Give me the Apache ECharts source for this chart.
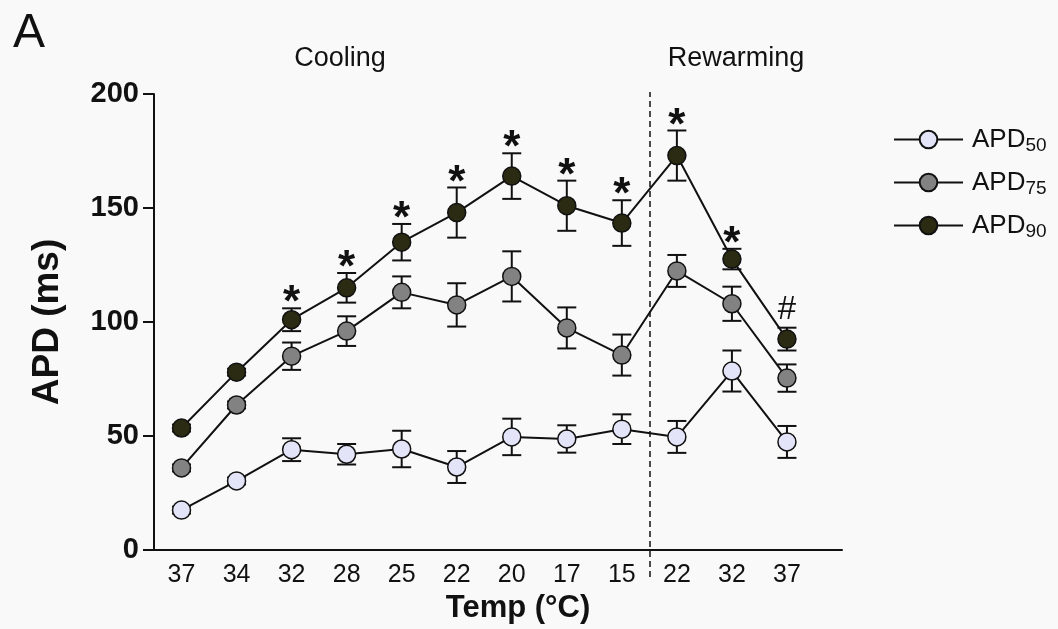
<!DOCTYPE html>
<html>
<head>
<meta charset="utf-8">
<script src="https://cdn.jsdelivr.net/npm/echarts@6/dist/echarts.min.js"></script>
<style>
  html, body { margin: 0; padding: 0; background: #f9f9f9; }
  #chart { width: 1058px; height: 629px; }
</style>
</head>
<body>
<div id="chart"></div>
<script>
// Temperature steps: cooling from 37 °C down to 15 °C, then rewarming
const tempLabels = ['37', '34', '32', '28', '25', '22', '20', '17', '15', '22', '32', '37'];

// Action potential duration (ms), mean and SEM
const apd50 = [17.5, 30.3, 44, 42, 44.3, 36.4, 49.6, 48.7, 53, 49.6, 78.5, 47.4];
const err50 = [1.5, 1.5, 5, 4.5, 8, 7, 8, 6, 6.5, 7, 9, 7];
const apd75 = [36, 63.6, 85, 96, 113, 107.5, 120, 97.4, 85.5, 122.4, 108, 75.4];
const err75 = [1.5, 1.5, 6, 6.5, 7, 9.5, 11, 9, 9, 7, 7.5, 6];
const apd90 = [53.5, 78, 101, 115, 135, 148, 164, 151, 143.4, 173, 127.6, 92.5];
const err90 = [1.5, 1.5, 5, 6.5, 8, 11, 10, 11, 10, 11, 4.5, 5];

// Significance marks drawn above APD90
const sig90 = ['', '', '*', '*', '*', '*', '*', '*', '*', '*', '*', '#'];

// Cooling/rewarming boundary sits between the 9th and 10th step
const phaseBoundary = 8.5;

const yTicks = { min: 0, max: 200, interval: 50 };

const FONT = 'Liberation Sans, Arial, sans-serif';
const INK = '#111';
const idx = tempLabels.map((_, i) => i);

function pts(vals) { return vals.map((v, i) => [i, v]); }
function bars(vals, errs) { return vals.map((v, i) => [i, v - errs[i], v + errs[i]]); }

function renderErr(params, api) {
  const x = api.value(0);
  const lo = api.coord([x, api.value(1)]);
  const hi = api.coord([x, api.value(2)]);
  const cap = 9.5;
  const style = { stroke: INK, lineWidth: 2, fill: null };
  return {
    type: 'group',
    children: [
      { type: 'line', shape: { x1: lo[0], y1: lo[1], x2: hi[0], y2: hi[1] }, style },
      { type: 'line', shape: { x1: lo[0] - cap, y1: lo[1], x2: lo[0] + cap, y2: lo[1] }, style },
      { type: 'line', shape: { x1: hi[0] - cap, y1: hi[1], x2: hi[0] + cap, y2: hi[1] }, style }
    ]
  };
}

function renderSig(params, api) {
  const i = api.value(0);
  const mark = sig90[i];
  if (!mark) return null;
  const top = api.coord([i, api.value(1)]);
  const star = mark === '*';
  return {
    type: 'text',
    style: {
      text: mark,
      x: top[0],
      y: top[1] - (star ? 4 : 18),
      align: 'center',
      verticalAlign: 'middle',
      fill: INK,
      font: (star ? 'bold 44px ' : '33px ') + FONT
    }
  };
}

function lineSeries(name, vals, fill) {
  return {
    name,
    type: 'line',
    data: pts(vals),
    symbol: 'circle',
    symbolSize: 18,
    z: 3,
    lineStyle: { color: INK, width: 2 },
    itemStyle: { color: fill, borderColor: INK, borderWidth: 1.5 }
  };
}

function errSeries(vals, errs) {
  return {
    type: 'custom',
    renderItem: renderErr,
    data: bars(vals, errs),
    z: 2,
    silent: true
  };
}

const chart = echarts.init(document.getElementById('chart'), null, { renderer: 'canvas' });

chart.setOption({
  backgroundColor: '#f9f9f9',
  animation: false,
  title: [
    { text: 'A', left: 8, top: 5, textStyle: { fontFamily: FONT, fontSize: 48, fontWeight: 'normal', color: INK } },
    { text: 'Cooling', left: 335, top: 40, textAlign: 'center', textStyle: { fontFamily: FONT, fontSize: 27, fontWeight: 'normal', color: INK } },
    { text: 'Rewarming', left: 731, top: 40, textAlign: 'center', textStyle: { fontFamily: FONT, fontSize: 27, fontWeight: 'normal', color: INK } }
  ],
  legend: {
    orient: 'vertical',
    left: 888,
    top: 119,
    itemWidth: 69,
    itemHeight: 22,
    itemGap: 12,
    data: ['APD50', 'APD75', 'APD90'],
    formatter: n => 'APD{sub|' + n.slice(3) + '}',
    textStyle: {
      fontFamily: FONT,
      fontSize: 26,
      color: INK,
      lineHeight: 31,
      padding: [0, 0, 0, 4],
      rich: {
        sub: { fontFamily: FONT, fontSize: 19, color: INK, lineHeight: 10, verticalAlign: 'bottom' }
      }
    }
  },
  grid: [
    { left: 154, right: 216, top: 94, bottom: 79 },
    { left: 154, right: 216, top: 92, bottom: 52 }
  ],
  xAxis: [
    {
      type: 'value',
      gridIndex: 0,
      min: -0.5,
      max: 12,
      axisLine: { show: true, onZero: false, lineStyle: { color: INK, width: 2 } },
      axisTick: { show: false },
      splitLine: { show: false },
      axisLabel: {
        customValues: idx,
        formatter: v => tempLabels[Math.round(v)],
        fontFamily: FONT,
        fontSize: 25,
        color: INK,
        margin: 13
      },
      name: 'Temp (°C)',
      nameLocation: 'middle',
      nameGap: 43,
      nameTextStyle: { fontFamily: FONT, fontSize: 31, fontWeight: 'bold', color: INK, padding: [0, 0, 0, 40] }
    },
    {
      type: 'value',
      gridIndex: 1,
      min: -0.5,
      max: 12,
      show: false
    }
  ],
  yAxis: [
    {
      type: 'value',
      gridIndex: 0,
      min: yTicks.min,
      max: yTicks.max,
      interval: yTicks.interval,
      axisLine: { show: true, onZero: false, lineStyle: { color: INK, width: 2 } },
      axisTick: { show: true, length: 11, lineStyle: { color: INK, width: 2 } },
      splitLine: { show: false },
      axisLabel: { fontFamily: FONT, fontSize: 29, fontWeight: 'bold', color: INK, margin: 15 },
      name: 'APD (ms)',
      nameLocation: 'middle',
      nameGap: 88,
      nameTextStyle: { fontFamily: FONT, fontSize: 37, fontWeight: 'bold', color: INK }
    },
    {
      type: 'value',
      gridIndex: 1,
      min: 0,
      max: 1,
      show: false
    }
  ],
  series: [
    errSeries(apd50, err50),
    errSeries(apd75, err75),
    errSeries(apd90, err90),
    lineSeries('APD50', apd50, '#e4e4f8'),
    lineSeries('APD75', apd75, '#828282'),
    lineSeries('APD90', apd90, '#2b2a12'),
    {
      type: 'custom',
      renderItem: renderSig,
      data: apd90.map((v, i) => [i, v + err90[i]]),
      z: 4,
      silent: true
    },
    {
      type: 'line',
      xAxisIndex: 1,
      yAxisIndex: 1,
      data: [],
      silent: true,
      markLine: {
        silent: true,
        symbol: 'none',
        label: { show: false },
        lineStyle: { color: INK, width: 1.5, type: [6, 4] },
        data: [{ xAxis: phaseBoundary }]
      }
    }
  ]
});
</script>
</body>
</html>
